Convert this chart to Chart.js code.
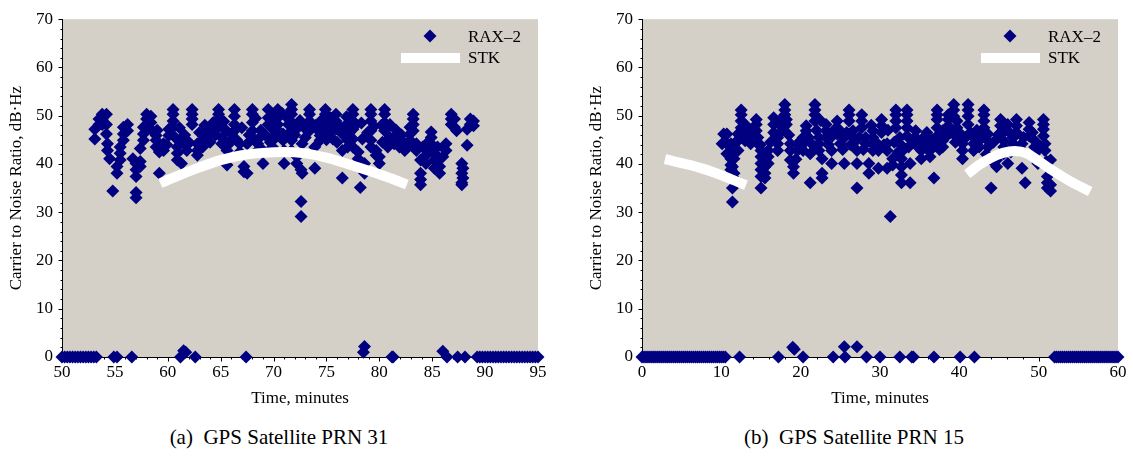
<!DOCTYPE html>
<html><head><meta charset="utf-8">
<script src="https://cdn.jsdelivr.net/npm/chart.js@4.4.0/dist/chart.umd.min.js"></script>
<style>
html,body{margin:0;padding:0;background:#fff;width:1133px;height:457px;overflow:hidden;}
.wrap{position:absolute;top:0;}
.cap{position:absolute;top:425px;font-family:"Liberation Serif","Times New Roman",serif;font-size:21px;color:#000;text-align:center;white-space:pre;line-height:24px;}
</style></head><body>
<div class="wrap" style="left:0"><canvas id="c1" width="553" height="420"></canvas></div>
<div class="wrap" style="left:580px"><canvas id="c2" width="553" height="420"></canvas></div>
<div class="cap" id="cap1" style="left:0;width:558px"></div>
<div class="cap" id="cap2" style="left:575px;width:558px"></div>
<script>
// ---------------- DATA ----------------
const yTicks = [0,10,20,30,40,50,60,70];
const leftXTicks = [50,55,60,65,70,75,80,85,90,95];
const rightXTicks = [0,10,20,30,40,50,60];
const captions = ['(a)  GPS Satellite PRN 31','(b)  GPS Satellite PRN 15'];
const seriesNames = ['RAX–2','STK'];

// PRN 31: RAX-2 measured C/N0 [time (min), dB-Hz]
const leftRaxSignal = [
 [53.1,47.2],[53.1,45.2],[53.5,48.2],[53.5,49.3],[53.8,50.3],[53.8,49.3],[53.8,48.2],
 [54.2,50.3],[54.2,48.2],[54.2,46.2],[54.3,44.2],[54.3,42.8],[54.5,41.1],[54.8,34.4],
 [55.2,38.1],[55.2,39.5],[55.5,40.8],[55.5,42.2],[55.5,43.5],[55.8,44.9],[55.8,46.2],[55.8,47.6],
 [56.2,48.2],[56.2,46.9],[56.7,41.1],[57.0,40.1],[57.0,38.8],[57.0,37.4],[57.0,34.1],[57.0,33.0],
 [57.4,40.5],[57.4,39.5],[57.4,43.2],[57.7,44.9],[57.7,46.2],[57.7,47.6],[58.0,50.3],[58.0,49.3],[58.0,48.2],
 [58.4,49.9],[58.4,48.6],[58.4,47.2],[58.9,45.9],[58.9,44.9],[58.9,43.5],[59.0,47.0],[59.2,38.1],[59.2,42.5],
 [59.6,42.8],[59.6,44.2],[59.9,44.0],[60.1,45.9],[60.1,47.2],[60.5,51.3],[60.5,50.3],[60.5,48.9],[60.5,47.6],
 [60.7,45.5],[60.9,43.5],[60.9,42.2],[60.9,40.8],[61.1,47.5],[61.3,40.1],[61.3,44.9],[61.6,46.0],[61.8,42.8],[61.8,43.9],
 [62.0,44.5],[62.3,51.3],[62.3,50.3],[62.3,49.3],[62.3,48.2],[62.8,44.2],[62.8,42.8],[62.8,41.8],
 [63.0,46.5],[63.3,43.5],[63.3,44.9],[63.5,48.0],[63.8,45.9],[63.8,46.9],[64.0,44.5],[64.3,47.6],[64.3,48.6],[64.5,46.0],
 [64.8,50.3],[64.8,51.3],[64.8,49.3],[64.8,47.6],[65.1,45.5],[65.1,44.2],[65.3,48.8],[65.6,39.8],[65.6,42.8],[65.5,47.0],
 [65.8,44.2],[66.0,44.9],[66.0,46.2],[66.3,51.3],[66.3,49.9],[66.3,48.2],[66.3,46.9],[66.5,45.0],[66.8,44.2],[66.8,42.5],
 [67.0,47.5],[67.2,39.5],[67.2,38.4],[67.5,38.1],[67.5,44.2],[67.7,46.0],
 [68.0,51.3],[68.0,50.3],[68.0,48.6],[68.0,46.9],[68.0,45.5],[68.3,49.5],[68.5,44.2],[68.5,42.8],[68.7,45.5],[68.8,47.0],
 [69.0,40.1],[69.0,42.8],[69.2,46.0],[69.5,51.3],[69.5,49.6],[69.5,48.2],[69.7,44.5],[69.9,50.3],[69.9,48.9],[69.9,45.5],[69.9,43.5],
 [70.0,47.0],[70.2,45.5],[70.4,51.3],[70.4,49.6],[70.4,48.2],[70.6,46.5],[70.8,50.5],[70.9,46.2],[70.9,44.9],[71.0,40.1],[71.0,42.8],
 [71.2,45.8],[71.4,50.3],[71.4,49.3],[71.4,48.2],[71.7,52.3],[71.7,51.3],[71.7,50.3],[71.7,48.6],[71.7,46.9],[71.7,44.9],[71.7,42.8],
 [72.0,46.0],[72.2,41.5],[72.2,40.1],[72.3,47.5],[72.5,49.0],[72.6,38.8],[72.6,32.2],[72.6,29.1],[72.7,38.1],[72.7,44.2],[72.9,47.5],
 [73.0,45.5],[73.4,51.3],[73.4,50.3],[73.4,48.9],[73.4,46.9],[73.7,48.0],[73.9,39.1],[73.9,43.5],[74.0,48.0],
 [74.2,47.0],[74.4,44.9],[74.4,45.9],[74.6,49.2],
 [74.9,51.3],[74.9,50.3],[74.9,48.9],[74.9,47.6],[75.0,45.0],[75.2,46.5],[75.4,49.6],[75.4,48.2],[75.6,45.2],
 [75.9,50.3],[75.9,48.9],[75.9,47.2],[76.0,44.5],[76.2,47.8],[76.5,37.1],[76.5,42.8],[76.5,46.2],[76.8,48.0],[76.9,49.8],
 [77.0,43.5],[77.0,44.9],[77.2,46.5],[77.5,51.3],[77.5,50.3],[77.5,48.9],[77.5,47.2],[77.5,45.2],[77.5,43.5],[77.8,48.2],
 [78.0,42.5],[78.0,41.1],[78.2,35.1],[78.3,48.5],[78.4,45.2],[78.6,38.1],[78.6,40.1],[78.9,46.5],
 [79.2,51.3],[79.2,50.3],[79.2,48.9],[79.2,46.9],[79.2,44.9],[79.2,43.5],[79.5,47.8],[79.7,42.8],[79.7,41.8],
 [80.0,40.1],[80.0,41.5],[80.2,48.0],[80.3,44.5],[80.5,51.3],[80.5,50.3],[80.5,48.6],[80.5,46.9],[80.8,43.5],
 [81.0,48.2],[81.0,45.5],[81.4,45.5],[81.4,44.2],[81.6,47.0],[81.9,43.5],[81.9,44.9],[82.1,46.0],[82.4,42.8],[82.4,44.2],
 [82.7,43.5],[82.9,44.9],[82.9,46.2],[82.9,47.6],[83.2,50.3],[83.2,49.3],[83.2,48.2],[83.2,46.9],[83.5,44.2],[83.5,42.8],
 [83.9,38.1],[83.9,36.8],[83.9,35.7],[83.9,40.8],[84.1,43.5],[84.4,40.1],[84.4,41.8],[84.6,44.5],
 [84.9,42.8],[84.9,44.2],[84.9,45.5],[84.9,46.6],[85.2,42.2],[85.2,40.8],[85.2,39.1],[85.5,43.5],
 [85.7,38.1],[85.7,39.5],[85.7,41.1],[86.0,41.5],[86.3,42.8],[86.3,44.2],[86.8,50.3],[86.8,49.3],[86.8,48.2],
 [87.1,49.3],[87.1,47.6],[87.3,46.9],[87.8,40.1],[87.8,38.1],[87.8,36.1],[87.8,35.7],[87.9,39.1],[87.9,37.1],
 [88.3,43.9],[88.3,47.2],[88.6,49.3],[88.6,48.2],[88.9,48.9],[88.9,47.9]
];
// PRN 31: RAX-2 samples with no lock (near 0 dB-Hz)
const leftRaxNoLock = [
 [50.0,0],[50.25,0],[50.5,0],[50.75,0],[51.0,0],[51.25,0],[51.5,0],[51.75,0],[52.0,0],[52.25,0],
 [52.5,0],[52.75,0],[53.0,0],[53.25,0],
 [54.9,0],[55.2,0],[56.6,0],[61.2,0],[61.5,1.3],[61.7,1.0],[62.6,0],[67.4,0],[78.5,1.0],[78.6,2.2],
 [81.2,0],[81.3,0],[86.0,1.2],[86.4,0],[87.4,0],[88.1,0],
 [89.25,0],[89.5,0],[89.75,0],[90.0,0],[90.25,0],[90.5,0],[90.75,0],[91.0,0],[91.25,0],[91.5,0],
 [91.75,0],[92.0,0],[92.25,0],[92.5,0],[92.75,0],[93.0,0],[93.25,0],[93.5,0],[93.75,0],[94.0,0],
 [94.25,0],[94.5,0],[94.75,0],[95.0,0]
];
// PRN 31: STK predicted C/N0
const leftStk = [
 [59.3,36.0],[61,37.6],[63,39.3],[65,40.8],[67,41.8],[69,42.3],[71,42.5],[73,42.2],
 [75,41.3],[77,40.0],[79,38.6],[81,37.1],[82.6,35.7]
];

// PRN 15: RAX-2 measured C/N0
const rightRaxSignal = [
 [10.1,44.2],[10.3,46.2],[10.7,46.2],[10.7,44.2],[10.7,42.1],
 [11.2,44.2],[11.2,42.8],[11.2,41.1],[11.2,39.8],[11.2,38.8],[11.4,32.1],[11.4,35.0],[11.4,37.4],[11.4,39.4],
 [11.6,41.1],[11.6,38.1],[11.8,44.5],[12.1,42.8],[12.1,44.8],[12.1,46.2],[12.5,51.2],[12.5,50.2],[12.5,48.9],[12.5,47.5],
 [12.8,46.0],[13.0,48.2],[13.0,46.2],[13.0,44.8],[13.3,47.5],[13.7,45.5],[13.7,44.2],[14.0,47.0],[14.4,49.2],[14.4,48.2],[14.4,46.9],
 [14.6,45.5],[14.6,44.2],[14.9,44.0],[15.0,42.8],[15.0,41.5],[15.0,40.1],[15.0,38.8],[15.0,37.4],[15.0,35.0],
 [15.5,42.1],[15.5,40.8],[15.5,39.4],[15.5,38.1],[15.5,37.1],[15.9,42.8],[15.9,41.5],[15.9,40.1],[16.2,44.5],
 [16.6,49.6],[16.6,48.2],[16.6,46.5],[16.9,46.0],[17.1,45.5],[17.1,44.2],[17.1,42.8],[17.5,49.2],[17.5,47.9],[17.5,46.5],
 [17.8,47.5],[18.0,52.3],[18.0,51.2],[18.0,50.2],[18.2,49.2],[18.2,48.2],[18.5,46.0],[18.7,44.2],[18.7,42.8],[18.7,40.8],
 [19.1,39.4],[19.1,38.1],[19.4,41.0],[19.6,44.2],[19.6,42.8],[20.0,43.5],[20.3,42.8],[20.3,44.2],[20.3,45.5],[20.7,46.9],[20.7,47.9],
 [21.0,45.5],[21.2,36.1],[21.2,42.1],[21.5,44.0],[21.8,52.3],[21.8,51.2],[21.8,50.2],[21.8,48.9],[22.0,47.0],[22.3,45.5],[22.3,44.2],[22.3,42.8],
 [22.5,49.0],[22.7,38.1],[22.7,37.1],[22.7,41.1],[23.2,48.2],[23.2,46.9],[23.2,45.5],[23.5,44.0],[23.9,42.8],[23.9,40.1],[24.0,45.8],[24.2,47.0],
 [24.6,48.9],[24.6,47.5],[24.6,46.2],[24.9,47.0],[25.0,44.2],[25.3,43.0],[25.5,40.1],[25.5,45.5],[25.8,46.5],
 [26.1,51.2],[26.1,50.2],[26.1,48.9],[26.3,44.0],[26.6,46.9],[26.6,45.5],[26.6,44.2],[27.1,35.0],[27.1,40.1],[27.1,42.8],
 [27.4,45.5],[27.7,50.2],[27.7,48.9],[27.7,47.5],[27.9,43.0],[28.2,45.5],[28.2,44.2],[28.6,38.1],[28.6,40.1],[28.9,48.0],
 [29.1,46.9],[29.1,45.5],[29.1,44.2],[29.1,42.8],[29.5,44.5],[29.8,39.1],[29.8,42.8],[30.2,49.2],[30.2,47.9],[30.2,46.5],
 [30.5,44.0],[30.9,44.2],[30.9,42.8],[30.9,39.1],[31.0,47.0],[31.3,29.1],[31.6,41.1],[31.6,39.8],[31.8,44.5],
 [32.0,51.2],[32.0,50.2],[32.0,48.9],[32.0,47.5],[32.3,42.5],[32.5,45.5],[32.5,44.2],[32.7,41.1],[32.7,39.4],[32.7,37.7],[32.7,36.1],
 [33.0,43.0],[33.4,51.2],[33.4,50.2],[33.4,48.9],[33.4,47.5],[33.4,45.8],[33.6,43.5],[33.8,36.1],[33.8,40.1],
 [34.2,45.0],[34.5,46.9],[34.5,45.5],[34.5,44.2],[34.8,43.5],[35.2,41.1],[35.2,42.8],[35.2,44.2],[35.5,45.5],
 [35.9,46.5],[35.9,45.5],[35.9,44.2],[36.0,43.0],[36.3,42.8],[36.3,41.5],[36.6,45.0],[36.8,37.1],[36.8,44.2],
 [37.2,51.2],[37.2,50.2],[37.2,49.2],[37.2,47.5],[37.2,45.8],[37.5,43.0],[37.9,46.9],[37.9,44.8],[37.9,43.5],[38.2,45.5],
 [38.6,50.2],[38.6,49.2],[38.6,47.9],[38.9,46.5],[39.3,52.3],[39.3,51.2],[39.3,49.9],[39.5,44.5],
 [39.7,48.9],[39.7,47.5],[39.7,45.5],[40.0,46.5],[40.4,44.2],[40.4,42.8],[40.4,41.1],[40.8,45.5],
 [41.1,52.3],[41.1,51.2],[41.1,49.9],[41.1,48.2],[41.4,46.5],[41.8,45.5],[41.8,44.2],[41.8,42.8],[42.2,47.0],[42.5,43.5],[42.5,44.8],
 [42.8,45.5],[43.1,51.2],[43.1,50.2],[43.1,48.9],[43.1,47.5],[43.4,42.0],[43.6,46.2],[43.6,44.8],[43.6,43.5],[44.0,35.0],[44.0,40.8],
 [44.3,44.5],[44.7,39.4],[44.7,40.8],[44.9,46.0],[45.2,49.2],[45.2,47.9],[45.2,46.5],[45.6,44.8],[45.6,43.5],[45.6,42.1],[45.8,47.0],
 [46.1,40.1],[46.1,48.2],[46.1,46.9],[46.5,42.5],[46.8,45.5],[46.8,44.2],[47.2,49.2],[47.2,47.9],[47.2,46.5],[47.5,43.5],
 [47.9,39.1],[47.9,42.8],[47.9,44.2],[48.1,45.5],[48.3,36.1],[48.8,48.6],[48.8,47.2],[48.8,45.8],[49.2,46.5],
 [49.5,44.8],[49.5,43.5],[49.5,42.1],[49.5,41.1],[49.9,40.1],[50.2,43.5],[50.6,49.2],[50.6,48.2],[50.6,47.2],[50.6,45.8],
 [50.8,44.2],[50.8,42.8],[51.0,40.5],[51.1,37.4],[51.1,36.1],[51.1,35.0],[51.5,34.4],[51.5,35.7],[51.5,38.8],[51.5,40.8]
];
// PRN 15: RAX-2 samples with no lock
const rightRaxNoLock = [
 [0,0],[0.25,0],[0.5,0],[0.75,0],[1,0],[1.25,0],[1.5,0],[1.75,0],[2,0],[2.25,0],[2.5,0],[2.75,0],
 [3,0],[3.25,0],[3.5,0],[3.75,0],[4,0],[4.25,0],[4.5,0],[4.75,0],[5,0],[5.25,0],[5.5,0],[5.75,0],
 [6,0],[6.25,0],[6.5,0],[6.75,0],[7,0],[7.25,0],[7.5,0],[7.75,0],[8,0],[8.25,0],[8.5,0],[8.75,0],
 [9,0],[9.25,0],[9.5,0],[9.75,0],[10,0],[10.25,0],[10.5,0],
 [12.3,0],[17.2,0],[19.0,2.0],[19.2,1.6],[20.3,0],[24.1,0],[25.5,2.1],[25.6,0],[27.1,2.1],[28.3,0],
 [30.0,0],[32.5,0],[34.0,0],[34.2,0],[36.8,0],[40.1,0],[41.9,0],
 [52,0],[52.25,0],[52.5,0],[52.75,0],[53,0],[53.25,0],[53.5,0],[53.75,0],[54,0],[54.25,0],[54.5,0],
 [54.75,0],[55,0],[55.25,0],[55.5,0],[55.75,0],[56,0],[56.25,0],[56.5,0],[56.75,0],[57,0],[57.25,0],
 [57.5,0],[57.75,0],[58,0],[58.25,0],[58.5,0],[58.75,0],[59,0],[59.25,0],[59.5,0],[59.75,0],[60,0]
];
// PRN 15: STK predicted C/N0 (two passes)
const rightStkA = [[2.9,41.0],[6,39.8],[9,38.3],[13.1,35.6]];
const rightStkB = [
 [41.0,37.9],[42.5,39.8],[44,41.3],[45.5,42.3],[47,42.7],[48.5,42.2],[50,40.6],[52,38.4],[54,36.4],[56.5,34.3]
];

// ---------------- RENDERING ----------------
const FONT = '"Liberation Serif", "Times New Roman", serif';
const NAVY = '#000080';
const toXY = arr => arr.map(p => ({x: p[0], y: p[1]}));
document.getElementById('cap1').textContent = captions[0];
document.getElementById('cap2').textContent = captions[1];

function framePlugin(minorX, minorY, majorX) {
  return {
    id: 'frame',
    beforeDatasetsDraw(chart) {
      const {ctx, chartArea: a, scales: {x, y}} = chart;
      ctx.save();
      ctx.fillStyle = '#d4d0c8';
      ctx.fillRect(a.left, a.top, a.right - a.left, a.bottom - a.top);
      ctx.strokeStyle = '#000';
      ctx.lineWidth = 1;
      ctx.beginPath();
      const L = Math.round(a.left) + 0.5, B = Math.round(a.bottom) + 0.5;
      ctx.moveTo(L, a.top); ctx.lineTo(L, B);
      ctx.moveTo(L, B); ctx.lineTo(a.right, B);
      for (let v = y.min; v <= y.max + 1e-9; v += minorY) {
        const py = Math.round(y.getPixelForValue(v)) + 0.5;
        const len = (Math.abs(v % 10) < 1e-6) ? 4 : 2;
        ctx.moveTo(L - len, py); ctx.lineTo(L, py);
      }
      for (let t = x.min; t <= x.max + 1e-9; t += minorX) {
        const px = Math.round(x.getPixelForValue(t)) + 0.5;
        const r = (t - x.min) / majorX;
        const len = Math.abs(r - Math.round(r)) < 1e-6 ? 4 : 2;
        ctx.moveTo(px, B); ctx.lineTo(px, B + len);
      }
      ctx.stroke();
      ctx.restore();
    },
    afterDatasetsDraw(chart) {
      const {ctx, chartArea: a} = chart;
      const r = a.right;
      ctx.save();
      ctx.strokeStyle = '#fff';
      ctx.lineWidth = 10;
      ctx.beginPath(); ctx.moveTo(r - 137, 58); ctx.lineTo(r - 78, 58); ctx.stroke();
      ctx.fillStyle = NAVY; ctx.strokeStyle = NAVY;
      Chart.helpers.drawPoint(ctx, {pointStyle: 'rectRot', radius: 6.5, borderWidth: 0}, r - 108, 36);
      ctx.fillStyle = '#000';
      ctx.font = '17px ' + FONT;
      ctx.textBaseline = 'middle';
      ctx.textAlign = 'left';
      ctx.fillText(seriesNames[0], r - 70, 38);
      ctx.fillText(seriesNames[1], r - 70, 59);
      ctx.restore();
    }
  };
}

function makeChart(id, raxSignal, raxNoLock, stkList, xMin, xMax, xTicks, minorX, majorX) {
  const datasets = [{
    type: 'scatter', label: seriesNames[0],
    data: toXY(raxSignal.concat(raxNoLock)),
    pointStyle: 'rectRot', pointRadius: 6.5, pointHoverRadius: 6.5,
    pointBackgroundColor: NAVY, pointBorderColor: NAVY, pointBorderWidth: 0,
    showLine: false, clip: false, order: 1
  }];
  stkList.forEach(s => datasets.push({
    type: 'line', label: seriesNames[1], data: toXY(s),
    borderColor: '#fff', borderWidth: 10, pointRadius: 0, fill: false,
    cubicInterpolationMode: 'monotone', borderCapStyle: 'butt', order: 0
  }));
  const tickFont = {family: FONT, size: 17};
  return new Chart(document.getElementById(id), {
    type: 'scatter',
    data: {datasets},
    options: {
      responsive: false, animation: false, events: [],
      layout: {padding: {top: 12, right: 15, left: 0, bottom: 0}},
      plugins: {legend: {display: false}, tooltip: {enabled: false}},
      scales: {
        x: {
          type: 'linear', min: xMin, max: xMax,
          afterFit(s) { s.height = 63; },
          afterBuildTicks(s) { s.ticks = xTicks.map(v => ({value: v})); },
          ticks: {color: '#000', font: tickFont, padding: 5, maxRotation: 0, autoSkip: false},
          grid: {display: false, drawTicks: false}, border: {display: false},
          title: {display: true, text: 'Time, minutes', color: '#000', font: tickFont, padding: {top: 0, bottom: 11}}
        },
        y: {
          type: 'linear', min: 0, max: 70,
          afterFit(s) { s.width = 62; },
          afterBuildTicks(s) { s.ticks = yTicks.map(v => ({value: v})); },
          ticks: {color: '#000', font: tickFont, padding: 9},
          grid: {display: false, drawTicks: false}, border: {display: false},
          title: {display: true, text: 'Carrier to Noise Ratio, dB·Hz', color: '#000', font: tickFont, padding: {top: 6, bottom: 0}}
        }
      }
    },
    plugins: [framePlugin(minorX, 2, majorX)]
  });
}

makeChart('c1', leftRaxSignal, leftRaxNoLock, [leftStk], 50, 95, leftXTicks, 1, 5);
makeChart('c2', rightRaxSignal, rightRaxNoLock, [rightStkA, rightStkB], 0, 60, rightXTicks, 2, 10);
</script>
</body></html>
